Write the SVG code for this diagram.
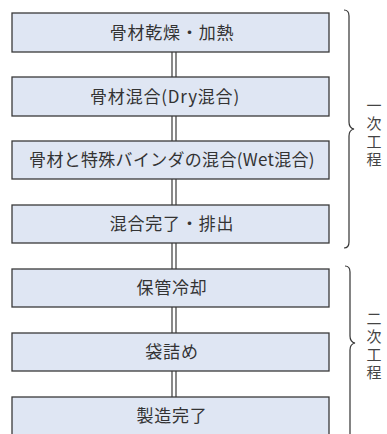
<svg xmlns="http://www.w3.org/2000/svg" width="387" height="434" viewBox="0 0 387 434">
<style>
.box{fill:#dfe6f3;stroke:#3a3a3a;stroke-width:1.3}
.lbl{font-family:"Noto Sans CJK JP","Noto Sans",sans-serif;font-size:17px;fill:#333;text-anchor:middle;letter-spacing:0.8px}
.side{font-family:"Noto Sans CJK JP",sans-serif;font-size:15px;fill:#444;writing-mode:vertical-rl;text-anchor:middle;letter-spacing:3px}
.conn{stroke:#3a3a3a;stroke-width:1.2}
.gap{fill:#fff}
.brace{fill:none;stroke:#333;stroke-width:1.2}
</style>
<rect width="387" height="434" fill="#fff"/>
<g id="connectors">
<rect class="gap" x="172" y="52" width="4" height="345"/>
<line class="conn" x1="172" y1="52" x2="172" y2="434"/>
<line class="conn" x1="176" y1="52" x2="176" y2="434"/>
</g>
<g id="n1"><rect class="box" x="12" y="13" width="317" height="39"/><text class="lbl" x="172" y="38.5">骨材乾燥・加熱</text></g>
<g id="n2"><rect class="box" x="12" y="77" width="317" height="39"/><text class="lbl" x="165" y="102.5">骨材混合(Dry混合)</text></g>
<g id="n3"><rect class="box" x="12" y="141" width="317" height="38"/><text class="lbl" x="172" y="166" style="letter-spacing:0.3px">骨材と特殊バインダの混合(Wet混合)</text></g>
<g id="n4"><rect class="box" x="12" y="205" width="317" height="38"/><text class="lbl" x="172" y="230">混合完了・排出</text></g>
<g id="n5"><rect class="box" x="12" y="269" width="317" height="38"/><text class="lbl" x="172" y="294">保管冷却</text></g>
<g id="n6"><rect class="box" x="12" y="333" width="317" height="38"/><text class="lbl" x="172" y="358">袋詰め</text></g>
<g id="n7"><rect class="box" x="12" y="397" width="317" height="40"/><text class="lbl" x="172" y="422">製造完了</text></g>
<g id="brace1">
<path class="brace" d="M344,10 Q349,10 349,16 L349,122 Q349,128 354,129 Q349,130 349,136 L349,242 Q349,248 344,248"/>
<text class="side" x="374" y="134">一次工程</text>
</g>
<g id="brace2">
<path class="brace" d="M345,266 Q350,266 350,272 L350,336 Q350,342 355,343 Q350,344 350,350 L350,434"/>
<text class="side" x="374" y="347">二次工程</text>
</g>
</svg>
